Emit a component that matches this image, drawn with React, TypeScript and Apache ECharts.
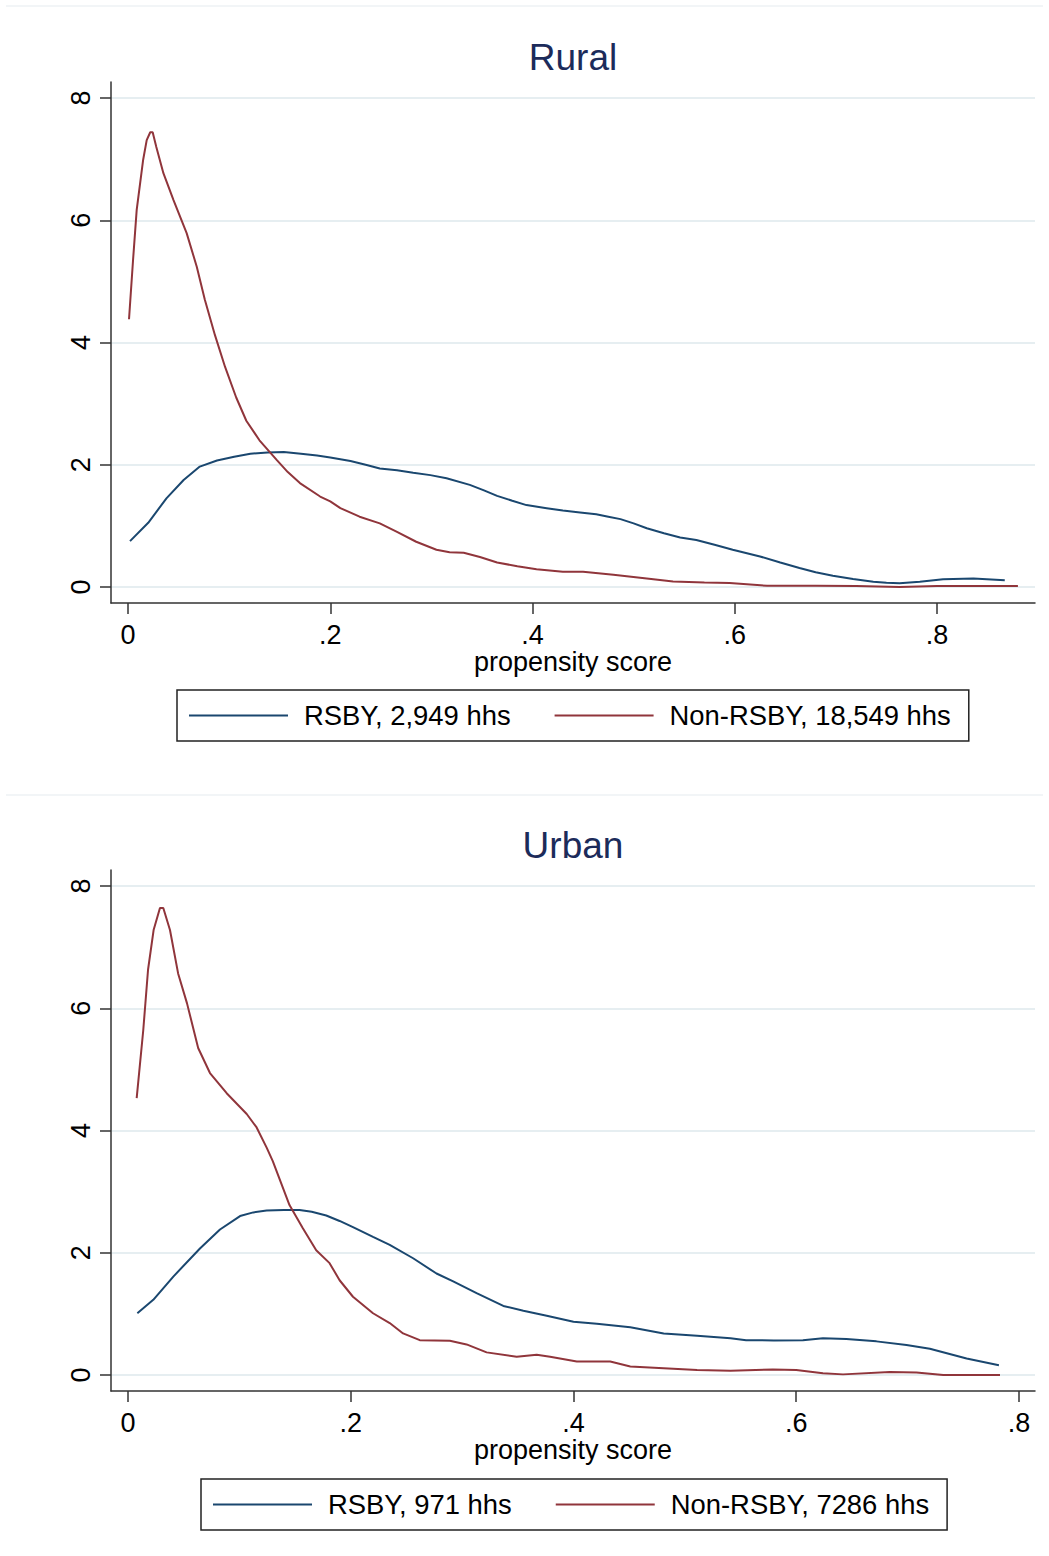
import React, { useEffect, useRef } from "react";
import * as echarts from "echarts";

// ---------- data ----------
const xTickValues = [0, 0.2, 0.4, 0.6, 0.8];
const yTickValues = [0, 2, 4, 6, 8];

const ruralLegend = ["RSBY, 2,949 hhs", "Non-RSBY, 18,549 hhs"];
const urbanLegend = ["RSBY, 971 hhs", "Non-RSBY, 7286 hhs"];

const ruralRsbyX = [0.002, 0.02, 0.038, 0.055, 0.071, 0.088, 0.105, 0.121, 0.138, 0.154, 0.171, 0.187, 0.2, 0.22, 0.235, 0.249, 0.266, 0.282, 0.299, 0.315, 0.338, 0.352, 0.365, 0.38, 0.394, 0.414, 0.43, 0.447, 0.463, 0.475, 0.487, 0.5, 0.513, 0.53, 0.546, 0.562, 0.58, 0.598, 0.625, 0.645, 0.664, 0.68, 0.697, 0.717, 0.737, 0.75, 0.763, 0.783, 0.806, 0.836, 0.867];
const ruralRsbyY = [0.75, 1.05, 1.45, 1.75, 1.97, 2.07, 2.13, 2.18, 2.2, 2.21, 2.18, 2.15, 2.12, 2.06, 2.0, 1.94, 1.91, 1.87, 1.83, 1.78, 1.67, 1.58, 1.49, 1.41, 1.34, 1.29, 1.25, 1.22, 1.19, 1.15, 1.11, 1.04, 0.96, 0.88, 0.81, 0.77, 0.69, 0.61, 0.5, 0.4, 0.31, 0.24, 0.185, 0.13, 0.087, 0.07, 0.06, 0.085, 0.125, 0.14, 0.11];

const ruralNonX = [0.001, 0.005, 0.0086, 0.015, 0.0185, 0.022, 0.0244, 0.028, 0.035, 0.045, 0.058, 0.068, 0.076, 0.086, 0.096, 0.107, 0.117, 0.13, 0.147, 0.158, 0.17, 0.19, 0.2, 0.21, 0.229, 0.249, 0.266, 0.285, 0.305, 0.318, 0.332, 0.348, 0.365, 0.385, 0.404, 0.43, 0.45, 0.48, 0.513, 0.539, 0.57, 0.595, 0.632, 0.68, 0.72, 0.763, 0.8, 0.84, 0.88];
const ruralNonY = [4.38, 5.35, 6.17, 6.99, 7.31, 7.44, 7.44, 7.2, 6.77, 6.33, 5.79, 5.24, 4.7, 4.12, 3.6, 3.1, 2.72, 2.4, 2.08, 1.88, 1.7, 1.48, 1.4, 1.29, 1.15, 1.04, 0.9, 0.74, 0.61, 0.57, 0.56, 0.49, 0.4, 0.34, 0.29, 0.25, 0.25, 0.2, 0.14, 0.09, 0.075, 0.065, 0.02, 0.02, 0.015, 0.0, 0.015, 0.015, 0.015];

const urbanRsbyX = [0.0084, 0.0227, 0.0407, 0.0646, 0.0826, 0.1006, 0.1125, 0.1245, 0.14, 0.154, 0.165, 0.178, 0.19, 0.202, 0.22, 0.235, 0.256, 0.277, 0.292, 0.313, 0.337, 0.355, 0.376, 0.4, 0.421, 0.451, 0.481, 0.511, 0.541, 0.555, 0.58, 0.606, 0.624, 0.645, 0.672, 0.699, 0.72, 0.753, 0.782];
const urbanRsbyY = [1.01, 1.23, 1.61, 2.07, 2.38, 2.6, 2.66, 2.69, 2.7, 2.7, 2.67, 2.61, 2.52, 2.42, 2.26, 2.13, 1.91, 1.66, 1.53, 1.34, 1.13, 1.05, 0.97, 0.87, 0.84, 0.78, 0.68, 0.64, 0.6, 0.57, 0.565, 0.57, 0.6, 0.59, 0.55, 0.49, 0.43, 0.27, 0.16];

const urbanNonX = [0.0078, 0.0137, 0.018, 0.023, 0.0287, 0.0317, 0.0377, 0.045, 0.053, 0.063, 0.0736, 0.0886, 0.1066, 0.1155, 0.1245, 0.13, 0.145, 0.157, 0.169, 0.181, 0.19, 0.202, 0.22, 0.235, 0.247, 0.262, 0.289, 0.304, 0.322, 0.349, 0.367, 0.379, 0.403, 0.433, 0.451, 0.481, 0.511, 0.541, 0.579, 0.6, 0.624, 0.642, 0.684, 0.708, 0.732, 0.783];
const urbanNonY = [4.53, 5.64, 6.63, 7.28, 7.64, 7.64, 7.28, 6.57, 6.08, 5.35, 4.94, 4.61, 4.27, 4.05, 3.72, 3.5, 2.78, 2.4, 2.04, 1.83, 1.55, 1.28, 1.01, 0.85, 0.68, 0.57, 0.56, 0.5, 0.37, 0.3, 0.33, 0.3, 0.22, 0.22, 0.14, 0.11, 0.08, 0.07, 0.09, 0.08, 0.03, 0.01, 0.05, 0.04, 0.0, 0.0];

// ---------- styling ----------
const FONT = "'Liberation Sans', Arial, Helvetica, sans-serif";
const BLUE = "#1a476f";
const RED = "#90353b";
const AXIS = "#333333";
const GRID = "#e6eef1";
const TITLE = "#1c2b5a";

const pairs = (xs: number[], ys: number[]) => xs.map((x, i) => [x, ys[i]]);
const fmtX = (v: number) => (v === 0 ? "0" : String(+v.toFixed(1)).replace(/^0/, ""));

function xAxisFor(gridIndex: number, min: number, max: number) {
  return {
    type: "value",
    gridIndex,
    min,
    max,
    axisLine: { show: true, onZero: false, lineStyle: { color: AXIS, width: 1.5 } },
    axisTick: { show: true, length: 11, customValues: xTickValues, lineStyle: { color: AXIS, width: 1.5 } },
    axisLabel: {
      customValues: xTickValues,
      formatter: fmtX,
      fontSize: 27,
      lineHeight: 27,
      color: "#000",
      margin: 18,
      fontFamily: FONT,
    },
    splitLine: { show: false },
    name: "propensity score",
    nameLocation: "middle",
    nameGap: 41,
    nameTextStyle: { fontSize: 27, lineHeight: 27, color: "#000", fontFamily: FONT },
  };
}

function yAxisFor(gridIndex: number) {
  return {
    type: "value",
    gridIndex,
    min: -0.262,
    max: 8.262,
    axisLine: { show: true, onZero: false, lineStyle: { color: AXIS, width: 1.5 } },
    axisTick: { show: true, length: 11, customValues: yTickValues, lineStyle: { color: AXIS, width: 1.5 } },
    axisLabel: {
      customValues: yTickValues,
      rotate: 90,
      fontSize: 27,
      lineHeight: 27,
      color: "#000",
      margin: 17,
      fontFamily: FONT,
    },
    splitLine: { show: true, lineStyle: { color: GRID, width: 2 } },
  };
}

function legendFor(left: number, top: number, names: string[]) {
  return {
    data: names,
    left,
    top,
    orient: "horizontal",
    icon: "rect",
    itemWidth: 99,
    itemHeight: 2,
    itemGap: 44,
    padding: [12, 18, 12, 12],
    borderColor: "#222",
    borderWidth: 1.5,
    borderRadius: 0,
    selectedMode: false,
    textStyle: { fontSize: 27.4, lineHeight: 26, color: "#000", fontFamily: FONT, padding: [0, 0, 0, 11] },
  };
}

function lineSeries(name: string, data: number[][], color: string, idx: number) {
  return {
    type: "line",
    name,
    data,
    xAxisIndex: idx,
    yAxisIndex: idx,
    symbol: "none",
    showSymbol: false,
    smooth: false,
    color,
    lineStyle: { color, width: 2 },
  };
}

export default function App() {
  const ref = useRef<HTMLDivElement>(null);
  useEffect(() => {
    document.body.style.margin = "0";
    if (!ref.current) return;
    const chart = echarts.init(ref.current, null, { renderer: "svg" });
    chart.setOption({
      animation: false,
      backgroundColor: "#ffffff",
      textStyle: { fontFamily: FONT },
      title: [
        { text: "Rural", left: 573, top: 39, padding: 0, textAlign: "center", textStyle: { fontSize: 37, lineHeight: 37, fontWeight: "normal", color: TITLE, fontFamily: FONT } },
        { text: "Urban", left: 573, top: 827, padding: 0, textAlign: "center", textStyle: { fontSize: 37, lineHeight: 37, fontWeight: "normal", color: TITLE, fontFamily: FONT } },
      ],
      grid: [
        { left: 111, top: 82, width: 924, height: 521, containLabel: false },
        { left: 111, top: 870, width: 924, height: 521, containLabel: false },
      ],
      xAxis: [xAxisFor(0, -0.01681, 0.8969), xAxisFor(1, -0.01526, 0.8144)],
      yAxis: [yAxisFor(0), yAxisFor(1)],
      legend: [legendFor(177, 690, ruralLegend), legendFor(201, 1479, urbanLegend)],
      graphic: [
        { type: "line", shape: { x1: 6, y1: 6, x2: 1043, y2: 6 }, style: { stroke: "#eef2f4", lineWidth: 1.5 } },
        { type: "line", shape: { x1: 6, y1: 795, x2: 1043, y2: 795 }, style: { stroke: "#eef2f4", lineWidth: 1.5 } },
      ],
      series: [
        lineSeries(ruralLegend[0], pairs(ruralRsbyX, ruralRsbyY), BLUE, 0),
        lineSeries(ruralLegend[1], pairs(ruralNonX, ruralNonY), RED, 0),
        lineSeries(urbanLegend[0], pairs(urbanRsbyX, urbanRsbyY), BLUE, 1),
        lineSeries(urbanLegend[1], pairs(urbanNonX, urbanNonY), RED, 1),
      ],
    });
    return () => chart.dispose();
  }, []);
  return <div ref={ref} style={{ width: 1049, height: 1556 }} />;
}
